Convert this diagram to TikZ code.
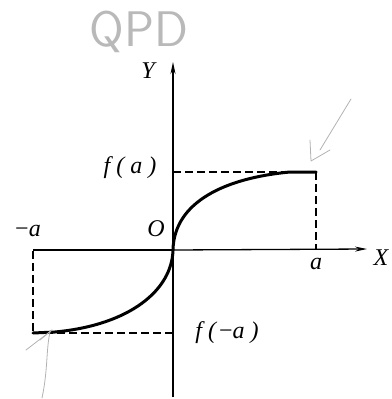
\documentclass[tikz,border=0pt]{standalone}
\usepackage{fontspec}
\setmainfont{Liberation Serif}
\usetikzlibrary{arrows.meta}
\begin{document}
\begin{tikzpicture}[x=1pt,y=-1pt,
  axis/.style={line width=1.3pt,-{Stealth[length=12pt,width=5pt]}},
  guide/.style={line width=1.4pt,dash pattern=on 8pt off 4pt},
  curve/.style={line width=3pt,line cap=round},
  pencil/.style={gray!60,line width=0.8pt,line cap=round,line join=round},
  lbl/.style={font=\fontsize{24}{28}\selectfont\itshape,inner sep=0pt}]
\useasboundingbox (0,0) rectangle (391,399);
% key points
\coordinate (O) at (173,250);
\coordinate (ybot) at (173,397);
\coordinate (ytop) at (173,62);
\coordinate (xleft) at (33,250);
\coordinate (xright) at (367,249);
\coordinate (A) at (316,172);
\coordinate (Ax) at (316,249);
\coordinate (Ay) at (173,172);
\coordinate (B) at (33,333);
\coordinate (Bx) at (33,251);
\coordinate (By) at (173,333);
% axes
\draw[line width=1.3pt] (xleft) -- (O);
\draw[axis] (O) -- (xright);
\draw[axis] (ybot) -- (ytop);
% guides
\draw[guide] (Ay) -- (A);
\draw[guide] (A) -- (Ax);
\draw[guide] (B) -- (By);
\draw[guide] (Bx) -- (B);
% curve
\draw[curve] (O) .. controls (174,202) and (225,178) .. (290,172) -- (A);
\draw[curve] (O) .. controls (172,290) and (130,325) .. (55,332) -- (B);
% labels
\node[lbl] (ylab) at (148,71) {Y};
\node[lbl] (xlab) at (381,258) {X};
\node[lbl] (olab) at (156,229) {O};
\node[lbl] (fa) at (130,168) {f\kern6pt(\kern6pt a\kern6pt)};
\node[lbl] (fma) at (227,333) {f\kern6pt(\kern3pt\textup{−}a\kern6pt)};
\node[lbl] (ma) at (28,231) {\textup{−}a};
\node[lbl] (a) at (316,264) {a};
% pencil annotations
\node[gray!55,font=\fontsize{50}{54}\sffamily,inner sep=0pt] (qpd) at (139,32) {QPD};
\coordinate (t1) at (311,161);
\draw[pencil] (351,99) -- (320,150);
\draw[pencil] (310,140) -- (t1) -- (330,150);
\coordinate (t2) at (52,330);
\draw[pencil] (t2) -- (26,350);
\draw[pencil] (t2) -- (40,340);
\draw[pencil] (50,332) .. controls (46,350) and (48,370) .. (42,398);
\end{tikzpicture}
\end{document}
